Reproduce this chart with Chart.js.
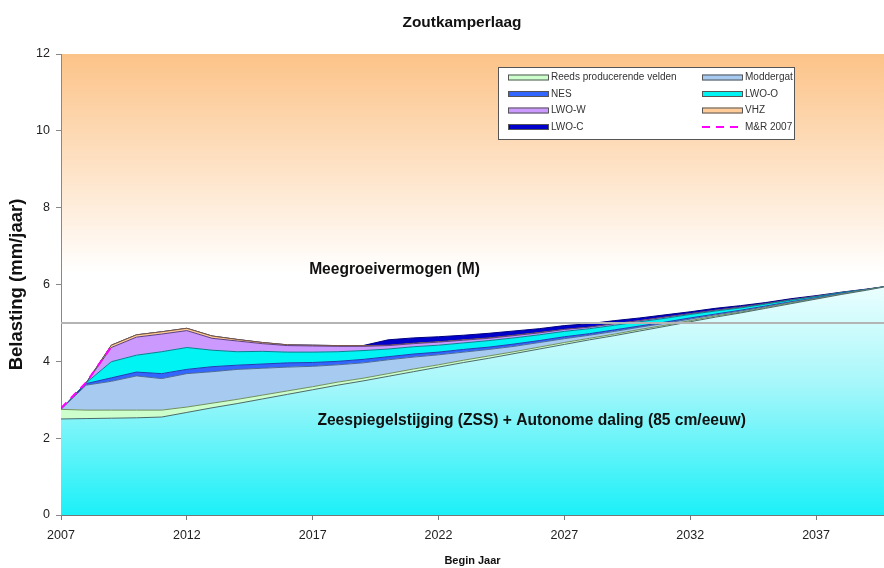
<!DOCTYPE html>
<html>
<head>
<meta charset="utf-8">
<title>Zoutkamperlaag</title>
<script src="https://cdn.jsdelivr.net/npm/chart.js@4.4.1/dist/chart.umd.min.js"></script>
<style>
  html, body { margin: 0; padding: 0; background: #fff; }
</style>
</head>
<body>
<canvas id="chart" width="884" height="568"></canvas>
<script>
// Belasting per jaar (mm/jaar), gestapeld; eerste laag = ZSS + autonome daling
const years = [2007, 2008, 2009, 2010, 2011, 2012, 2013, 2014, 2015, 2016, 2017,
               2018, 2019, 2020, 2021, 2022, 2023, 2024, 2025, 2026, 2027, 2028,
               2029, 2030, 2031, 2032, 2033, 2034, 2035, 2036, 2037, 2038, 2039, 2040];

const zss       = [2.50, 2.51, 2.52, 2.53, 2.55, 2.67, 2.79, 2.90, 3.02, 3.14, 3.26,
                   3.38, 3.49, 3.61, 3.73, 3.85, 3.97, 4.08, 4.20, 4.32, 4.44, 4.56,
                   4.67, 4.79, 4.91, 5.03, 5.15, 5.26, 5.38, 5.50, 5.62, 5.74, 5.85, 5.97];
const reeds     = [0.25, 0.22, 0.21, 0.20, 0.18, 0.14, 0.12, 0.11, 0.10, 0.09, 0.08,
                   0.08, 0.07, 0.07, 0.07, 0.06, 0.06, 0.06, 0.05, 0.05, 0.05, 0.04,
                   0.04, 0.04, 0.03, 0.03, 0.03, 0.02, 0.02, 0.02, 0.01, 0.01, 0.01, 0.00];
const moddergat = [0.00, 0.65, 0.75, 0.89, 0.82, 0.87, 0.82, 0.78, 0.70, 0.62, 0.53,
                   0.45, 0.40, 0.36, 0.31, 0.26, 0.21, 0.17, 0.14, 0.12, 0.10, 0.08,
                   0.07, 0.06, 0.05, 0.04, 0.03, 0.03, 0.02, 0.02, 0.01, 0.01, 0.00, 0.00];
const nes       = [0.00, 0.04, 0.09, 0.10, 0.13, 0.11, 0.13, 0.11, 0.11, 0.11, 0.10,
                   0.09, 0.09, 0.08, 0.08, 0.07, 0.07, 0.06, 0.06, 0.05, 0.05, 0.04,
                   0.04, 0.03, 0.03, 0.03, 0.02, 0.02, 0.02, 0.01, 0.01, 0.01, 0.00, 0.00];
const lwoO      = [0.00, 0.02, 0.42, 0.44, 0.57, 0.57, 0.43, 0.35, 0.33, 0.28, 0.27,
                   0.25, 0.23, 0.20, 0.19, 0.18, 0.17, 0.17, 0.16, 0.15, 0.14, 0.13,
                   0.12, 0.11, 0.10, 0.09, 0.08, 0.06, 0.05, 0.04, 0.03, 0.02, 0.01, 0.00];
const lwoW      = [0.00, 0.00, 0.37, 0.47, 0.46, 0.44, 0.31, 0.28, 0.20, 0.17, 0.16,
                   0.14, 0.11, 0.09, 0.08, 0.08, 0.07, 0.06, 0.06, 0.05, 0.05, 0.04,
                   0.04, 0.03, 0.03, 0.02, 0.02, 0.02, 0.01, 0.01, 0.01, 0.00, 0.00, 0.00];
const vhz       = [0.00, 0.00, 0.06, 0.06, 0.06, 0.06, 0.06, 0.04, 0.03, 0.02, 0.02,
                   0.02, 0.02, 0.01, 0.01, 0.01, 0.01, 0.01, 0.01, 0.01, 0.00, 0.00,
                   0.00, 0.00, 0.00, 0.00, 0.00, 0.00, 0.00, 0.00, 0.00, 0.00, 0.00, 0.00];
const lwoC      = [0.00, 0.00, 0.00, 0.00, 0.00, 0.00, 0.00, 0.00, 0.00, 0.00, 0.00,
                   0.00, 0.00, 0.14, 0.14, 0.13, 0.12, 0.12, 0.11, 0.10, 0.10, 0.09,
                   0.08, 0.07, 0.06, 0.05, 0.05, 0.04, 0.03, 0.03, 0.02, 0.01, 0.01, 0.00];

// M&R 2007 (alleen eerste jaren zichtbaar)
const mrYears  = [2007, 2008, 2009];
const mrValues = [2.78, 3.45, 4.38];

// meegroeivermogen
const meegroeiLevel = 5;

const yTicks = [0, 2, 4, 6, 8, 10, 12];
const xTicks = [2007, 2012, 2017, 2022, 2027, 2032, 2037];

const FONT = "'Liberation Sans', Arial, sans-serif";

function pts(values) {
    return values.map((v, i) => ({ x: years[i], y: v }));
}

function zssGradient(context) {
    const { chart } = context;
    const area = chart.chartArea;
    if (!area) return '#40f0f8';
    const y = chart.scales.y;
    const g = chart.ctx.createLinearGradient(0, y.getPixelForValue(6.2), 0, y.getPixelForValue(0));
    g.addColorStop(0, '#f2ffff');
    g.addColorStop(0.45, '#a6f7fa');
    g.addColorStop(1, '#1cf0f8');
    return g;
}

function area(label, values, bg, border, inLegend) {
    return {
        label: label,
        data: pts(values),
        backgroundColor: bg,
        borderColor: border,
        borderWidth: 1,
        fill: '-1',
        stack: 'belasting',
        pointRadius: 0,
        tension: 0,
        inLegend: inLegend
    };
}

// plot area background: orange to white
const plotBackground = {
    id: 'plotBackground',
    beforeDraw(chart) {
        const { ctx, chartArea } = chart;
        const y = chart.scales.y;
        const g = ctx.createLinearGradient(0, y.getPixelForValue(12), 0, y.getPixelForValue(6.3));
        g.addColorStop(0, '#fcc388');
        g.addColorStop(1, '#ffffff');
        ctx.save();
        ctx.fillStyle = g;
        ctx.fillRect(chartArea.left, chartArea.top, chartArea.right - chartArea.left, chartArea.bottom - chartArea.top);
        ctx.restore();
    }
};

// title and labels inside the plot
const chartTexts = {
    id: 'chartTexts',
    afterDraw(chart) {
        const { ctx } = chart;
        const x = chart.scales.x, y = chart.scales.y;
        ctx.save();
        ctx.fillStyle = '#111';
        ctx.textAlign = 'center';
        ctx.textBaseline = 'middle';
        ctx.font = 'bold 15.4px ' + FONT;
        ctx.fillText('Zoutkamperlaag', 462, 23);
        ctx.font = 'bold 15.6px ' + FONT;
        ctx.fillText('Meegroeivermogen (M)', x.getPixelForValue(2020.25), y.getPixelForValue(6.38));
        ctx.fillText('Zeespiegelstijging (ZSS) + Autonome daling (85 cm/eeuw)',
            x.getPixelForValue(2025.7), y.getPixelForValue(2.46));
        ctx.restore();
    }
};

// legend box top right
const legendBox = {
    id: 'legendBox',
    afterDraw(chart) {
        const { ctx } = chart;
        const items = chart.data.datasets.filter(d => d.inLegend);
        const bx = 498, by = 67, bw = 296, bh = 72;
        ctx.save();
        ctx.fillStyle = '#fff';
        ctx.fillRect(bx, by, bw, bh);
        ctx.strokeStyle = '#555';
        ctx.lineWidth = 1;
        ctx.strokeRect(bx + 0.5, by + 0.5, bw, bh);
        ctx.font = '10px ' + FONT;
        ctx.textBaseline = 'middle';
        items.forEach((d, i) => {
            const col = i % 2, row = Math.floor(i / 2);
            const sx = col === 0 ? 508 : 702;
            const sy = 77.5 + row * 16.5;
            if (d.borderDash) {
                ctx.strokeStyle = d.borderColor;
                ctx.lineWidth = 2;
                ctx.setLineDash([8, 6]);
                ctx.beginPath();
                ctx.moveTo(sx, sy);
                ctx.lineTo(sx + 40, sy);
                ctx.stroke();
                ctx.setLineDash([]);
            } else {
                ctx.fillStyle = d.backgroundColor;
                ctx.fillRect(sx, sy - 3, 40, 6);
                ctx.strokeStyle = '#555';
                ctx.lineWidth = 1;
                ctx.strokeRect(sx + 0.5, sy - 2.5, 40, 5);
            }
            ctx.fillStyle = '#333';
            ctx.textAlign = 'left';
            ctx.fillText(d.label, sx + 43, sy);
        });
        ctx.restore();
    }
};

const datasets = [
    {
        label: 'ZSS + Autonome daling',
        data: pts(zss),
        backgroundColor: zssGradient,
        borderColor: '#4a6a6a',
        borderWidth: 1,
        fill: 'origin',
        stack: 'belasting',
        pointRadius: 0,
        tension: 0,
        inLegend: false
    },
    area('Reeds producerende velden', reeds, '#ccffcc', '#6f8f5f', true),
    area('Moddergat', moddergat, '#a6caf0', '#4a6a9a', true),
    area('NES', nes, '#3366ff', '#1f3fb0', true),
    area('LWO-O', lwoO, '#00f4f4', '#0a7f8f', true),
    area('LWO-W', lwoW, '#cc99ff', '#5a4080', true),
    area('VHZ', vhz, '#ffcc99', '#7a5a3a', true),
    area('LWO-C', lwoC, '#0000cc', '#000080', true),
    {
        label: 'M&R 2007',
        data: mrValues.map((v, i) => ({ x: mrYears[i], y: v })),
        borderColor: '#ff00ff',
        borderWidth: 2,
        borderDash: [8, 6],
        fill: false,
        stack: 'mr',
        pointRadius: 0,
        order: -2,
        inLegend: true
    },
    {
        label: 'Meegroeivermogen',
        data: [{ x: years[0], y: meegroeiLevel }, { x: years[years.length - 1], y: meegroeiLevel }],
        borderColor: '#b4b4b4',
        borderWidth: 2,
        fill: false,
        stack: 'ref',
        pointRadius: 0,
        order: -1,
        inLegend: false
    }
];

new Chart(document.getElementById('chart'), {
    type: 'line',
    data: { datasets: datasets },
    options: {
        responsive: false,
        animation: false,
        devicePixelRatio: 1,
        layout: { padding: { top: 54, left: 0, right: 0, bottom: 0 } },
        plugins: {
            legend: { display: false },
            tooltip: { enabled: false },
            title: { display: false }
        },
        scales: {
            x: {
                type: 'linear',
                min: 2007,
                max: 2039.7,
                afterFit: s => { s.height = 53; },
                afterBuildTicks: s => {
                    s.ticks = xTicks.map(v => ({ value: v }));
                },
                ticks: {
                    autoSkip: false,
                    maxRotation: 0,
                    padding: 8,
                    color: '#222',
                    font: { family: FONT, size: 12.5 },
                    callback: v => String(v)
                },
                grid: { drawOnChartArea: false, drawTicks: true, tickLength: 5, color: '#777' },
                border: { color: '#777', width: 1 },
                title: {
                    display: true,
                    text: 'Begin Jaar',
                    color: '#111',
                    font: { family: FONT, size: 11, weight: 'bold' },
                    padding: { top: 0, bottom: 0 }
                }
            },
            y: {
                stacked: true,
                min: 0,
                max: 12,
                afterFit: s => { s.width = 61; },
                afterBuildTicks: s => {
                    s.ticks = yTicks.map(v => ({ value: v }));
                },
                ticks: {
                    padding: 6,
                    color: '#222',
                    font: { family: FONT, size: 12.5 }
                },
                grid: { drawOnChartArea: false, drawTicks: true, tickLength: 5, color: '#888' },
                border: { color: '#888', width: 1 },
                title: {
                    display: true,
                    text: 'Belasting (mm/jaar)',
                    color: '#111',
                    font: { family: FONT, size: 18.5, weight: 'bold' },
                    padding: { top: 6, bottom: 0 }
                }
            }
        }
    },
    plugins: [plotBackground, chartTexts, legendBox]
});
</script>
</body>
</html>
